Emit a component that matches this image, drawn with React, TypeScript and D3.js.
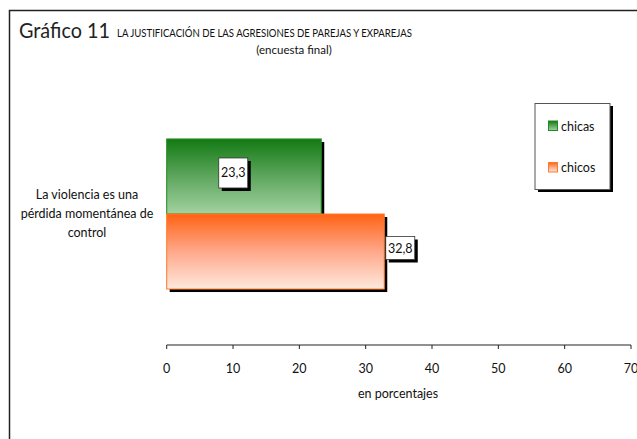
import React from "react";
import * as d3 from "d3";

const categories = ["La violencia es una pérdida momentánea de control"];
const categoryLines = [["La violencia es una", "pérdida momentánea de", "control"]];
const series = ["chicas", "chicos"];
const chicas = [23.3];
const chicos = [32.8];
const xTicks = [0, 10, 20, 30, 40, 50, 60, 70];

const W = 637;
const H = 439;
const FONT = "Lato, 'Open Sans', sans-serif";

export default function App() {
  const x = d3.scaleLinear().domain([0, 70]).range([166.7, 631]);
  const y = d3.scaleBand<string>().domain(categories).range([83, 345]).paddingOuter(0.373).paddingInner(0);
  const ys = d3.scaleBand<string>().domain(series).range([0, y.bandwidth()]).padding(0);
  const values: Record<string, number[]> = { chicas, chicos };
  const fills: Record<string, string> = { chicas: "url(#gGreen)", chicos: "url(#gOrange)" };
  const strokes: Record<string, string> = { chicas: "#1f8a1f", chicos: "#ff7a26" };
  const fmt = (v: number) => d3.format(".1f")(v).replace(".", ",");

  return (
    <svg width={W} height={H} style={{ position: "absolute", left: 0, top: 0 }} fontFamily={FONT}>
      <defs>
        <linearGradient id="gGreen" x1="0" y1="0" x2="0" y2="1">
          <stop offset="0" stopColor="#137a13" />
          <stop offset="0.5" stopColor="#5ea65e" />
          <stop offset="1" stopColor="#a2d2a0" />
        </linearGradient>
        <linearGradient id="gOrange" x1="0" y1="0" x2="0" y2="1">
          <stop offset="0" stopColor="#ff6314" />
          <stop offset="0.5" stopColor="#ffa88a" />
          <stop offset="1" stopColor="#fde9dd" />
        </linearGradient>
      </defs>
      <rect x={0} y={0} width={W} height={H} fill="#fff" />
      <rect x={9.5} y={10.5} width={W + 10} height={H + 10} fill="none" stroke="#222" strokeWidth={1.5} />

      <text x={19} y={38} fontSize={22} fill="#222" textLength={91} lengthAdjust="spacingAndGlyphs">Gráfico 11</text>
      <text x={117} y={37} fontSize={11} fill="#111" textLength={295} lengthAdjust="spacingAndGlyphs">
        LA JUSTIFICACIÓN DE LAS AGRESIONES DE PAREJAS Y EXPAREJAS
      </text>
      <text x={294} y={54} fontSize={11.5} fill="#111" textAnchor="middle">(encuesta final)</text>

      {categories.map((c, ci) =>
        series.map((s) => {
          const v = values[s][ci];
          const y0 = (y(c) as number) + (ys(s) as number);
          const h = ys.bandwidth();
          return <rect key={c + s} x={x(0) + 3} y={y0 + 3} width={x(v) - x(0)} height={h} fill="#000" />;
        })
      )}
      {categories.map((c, ci) =>
        series.map((s) => {
          const v = values[s][ci];
          const y0 = (y(c) as number) + (ys(s) as number);
          const h = ys.bandwidth();
          return (
            <rect key={c + s} x={x(0)} y={y0} width={x(v) - x(0)} height={h} fill={fills[s]} stroke={strokes[s]} strokeWidth={1} />
          );
        })
      )}

      {categories.map((c, ci) =>
        series.map((s) => {
          const v = values[s][ci];
          const y0 = (y(c) as number) + (ys(s) as number);
          const isG = s === "chicas";
          const cx = isG ? x(v) - 88 : x(v) + 16;
          const cy = isG ? y0 + 34 : y0 + 34;
          const bh = isG ? 30 : 23;
          return (
            <g key={"l" + c + s}>
              <rect x={cx - 14.5 + 3} y={cy - bh / 2 + 3} width={29} height={bh} fill="#000" />
              <rect x={cx - 14.5} y={cy - bh / 2} width={29} height={bh} fill="#fff" stroke="#333" strokeWidth={0.8} />
              <text x={cx} y={cy + 4.5} fontSize={12.5} textAnchor="middle" fill="#111">{fmt(v)}</text>
            </g>
          );
        })
      )}

      {categories.map((c, ci) => {
        const cy = (y(c) as number) + y.bandwidth() / 2;
        return (
          <text key={"c" + c} x={87} textAnchor="middle" fontSize={12.5} fill="#111">
            {categoryLines[ci].map((l, i) => (
              <tspan key={i} x={87} y={cy - 15 + i * 19}>{l}</tspan>
            ))}
          </text>
        );
      })}

      <line x1={x(0)} x2={x(70)} y1={345} y2={345} stroke="#222" strokeWidth={1} />
      {xTicks.map((t) => (
        <g key={t}>
          <line x1={x(t)} x2={x(t)} y1={345} y2={349} stroke="#222" />
          <text x={x(t)} y={373} fontSize={12.5} textAnchor="middle" fill="#111">{t}</text>
        </g>
      ))}
      <text x={398} y={398} fontSize={12.5} textAnchor="middle" fill="#111">en porcentajes</text>

      <rect x={538} y={106} width={75} height={86} fill="#000" />
      <rect x={535} y={103.5} width={75} height={86} fill="#fff" stroke="#555" strokeWidth={1} />
      {series.map((s, i) => (
        <g key={"lg" + s}>
          <rect x={548.5} y={121 + i * 41.5} width={9} height={9.5} fill={fills[s]} stroke={strokes[s]} strokeWidth={1} />
          <text x={561} y={130.5 + i * 41.5} fontSize={12.5} fill="#111">{s}</text>
        </g>
      ))}
    </svg>
  );
}
